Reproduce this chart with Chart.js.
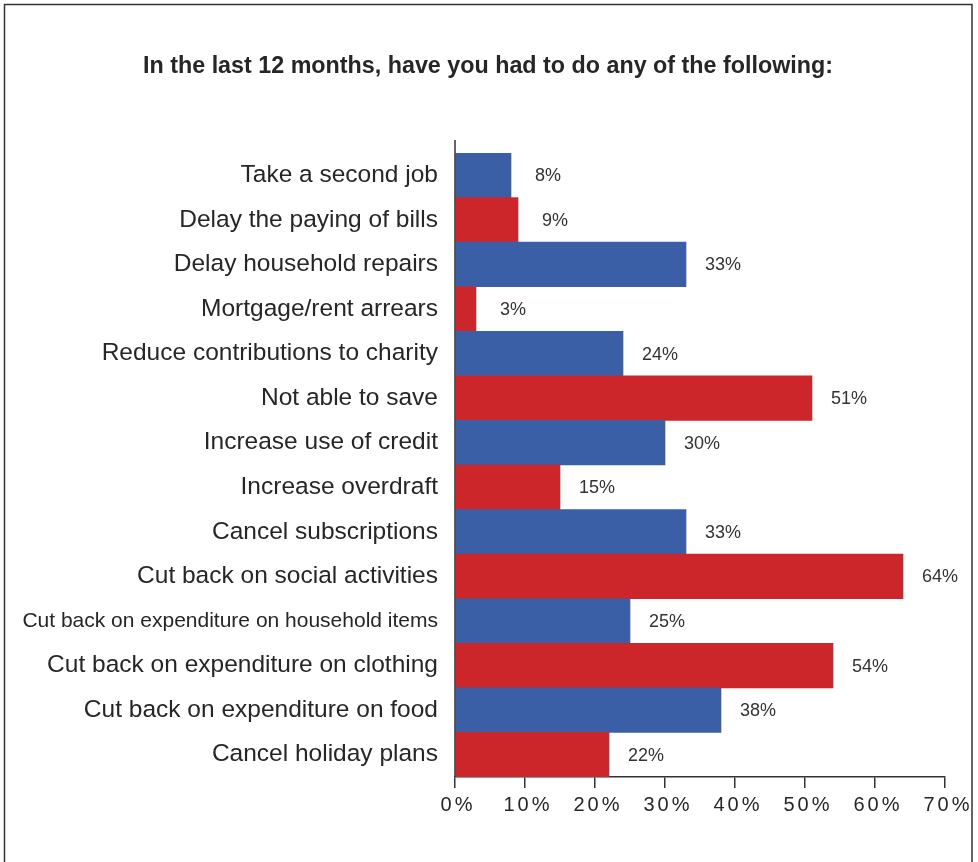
<!DOCTYPE html>
<html>
<head>
<meta charset="utf-8">
<script src="https://cdn.jsdelivr.net/npm/chart.js@4/dist/chart.umd.min.js"></script>
<style>
  html, body { margin: 0; padding: 0; background: #fff; }
  #wrap { width: 978px; height: 862px; position: relative; }
</style>
</head>
<body>
<div id="wrap"><canvas id="c" width="978" height="862"></canvas></div>
<script>
const titleText = 'In the last 12 months, have you had to do any of the following:';

const categories = [
  'Take a second job',
  'Delay the paying of bills',
  'Delay household repairs',
  'Mortgage/rent arrears',
  'Reduce contributions to charity',
  'Not able to save',
  'Increase use of credit',
  'Increase overdraft',
  'Cancel subscriptions',
  'Cut back on social activities',
  'Cut back on expenditure on household items',
  'Cut back on expenditure on clothing',
  'Cut back on expenditure on food',
  'Cancel holiday plans'
];

const percentages = [8, 9, 33, 3, 24, 51, 30, 15, 33, 64, 25, 54, 38, 22];

const xTicks = [0, 10, 20, 30, 40, 50, 60, 70];

const BLUE = '#3a5fa6';
const RED = '#cc262b';
const INK = '#262626';
const FONT = '"Liberation Sans", Arial, Helvetica, sans-serif';

// Page frame, title, raised y-axis line, tick labels and value labels
const decorations = {
  id: 'decorations',
  afterDraw(chart) {
    const { ctx, chartArea: a, scales } = chart;
    ctx.save();

    // frame
    ctx.strokeStyle = '#333';
    ctx.lineWidth = 1.5;
    ctx.strokeRect(4.5, 4.5, 967.5, 880);

    // title
    ctx.fillStyle = INK;
    ctx.font = 'bold 23.3px ' + FONT;
    ctx.textAlign = 'center';
    ctx.textBaseline = 'middle';
    ctx.fillText(titleText, 488, 67);

    // y axis line, running a little above the first bar
    ctx.strokeStyle = '#333';
    ctx.lineWidth = 1.5;
    ctx.beginPath();
    ctx.moveTo(a.left, a.top - 13);
    ctx.lineTo(a.left, a.bottom);
    ctx.stroke();

    // x tick labels, letter-spaced
    ctx.font = '20px ' + FONT;
    ctx.fillStyle = INK;
    ctx.letterSpacing = '3px';
    ctx.textAlign = 'center';
    xTicks.forEach(v => {
      const x = scales.x.getPixelForValue(v);
      ctx.fillText(v + '%', x + 3, 805);
    });
    ctx.letterSpacing = '0px';

    // value labels beside each bar
    ctx.font = '18px ' + FONT;
    ctx.fillStyle = '#333';
    const meta = chart.getDatasetMeta(0);
    meta.data.forEach((bar, i) => {
      ctx.fillText(percentages[i] + '%', bar.x + 37, bar.y + 1);
    });

    ctx.restore();
  }
};

new Chart(document.getElementById('c'), {
  type: 'bar',
  data: {
    labels: categories,
    datasets: [{
      data: percentages,
      backgroundColor: ctx => (ctx.dataIndex % 2 === 0 ? BLUE : RED),
      borderWidth: 0,
      categoryPercentage: 1,
      barPercentage: 1
    }]
  },
  options: {
    indexAxis: 'y',
    responsive: false,
    animation: false,
    layout: { padding: { top: 153, right: 33, left: 0, bottom: 0 } },
    plugins: {
      legend: { display: false },
      title: { display: false },
      tooltip: { enabled: false }
    },
    scales: {
      x: {
        min: 0,
        max: 70,
        ticks: {
          stepSize: 10,
          color: 'rgba(0,0,0,0)',
          font: { size: 17, family: FONT },
          callback: v => v + '%'
        },
        grid: {
          drawOnChartArea: false,
          drawTicks: true,
          tickLength: 11,
          tickColor: '#333',
          lineWidth: 1.5
        },
        border: { display: true, color: '#333', width: 1.5 },
        afterFit: s => { s.height = 862 - 777; }
      },
      y: {
        ticks: {
          color: INK,
          padding: 17,
          font: ctx => ({ size: ctx.index === 10 ? 21 : 24.5, family: FONT })
        },
        grid: { display: false, drawTicks: false },
        border: { display: false },
        afterFit: s => { s.width = 455; }
      }
    }
  },
  plugins: [decorations]
});
</script>
</body>
</html>
